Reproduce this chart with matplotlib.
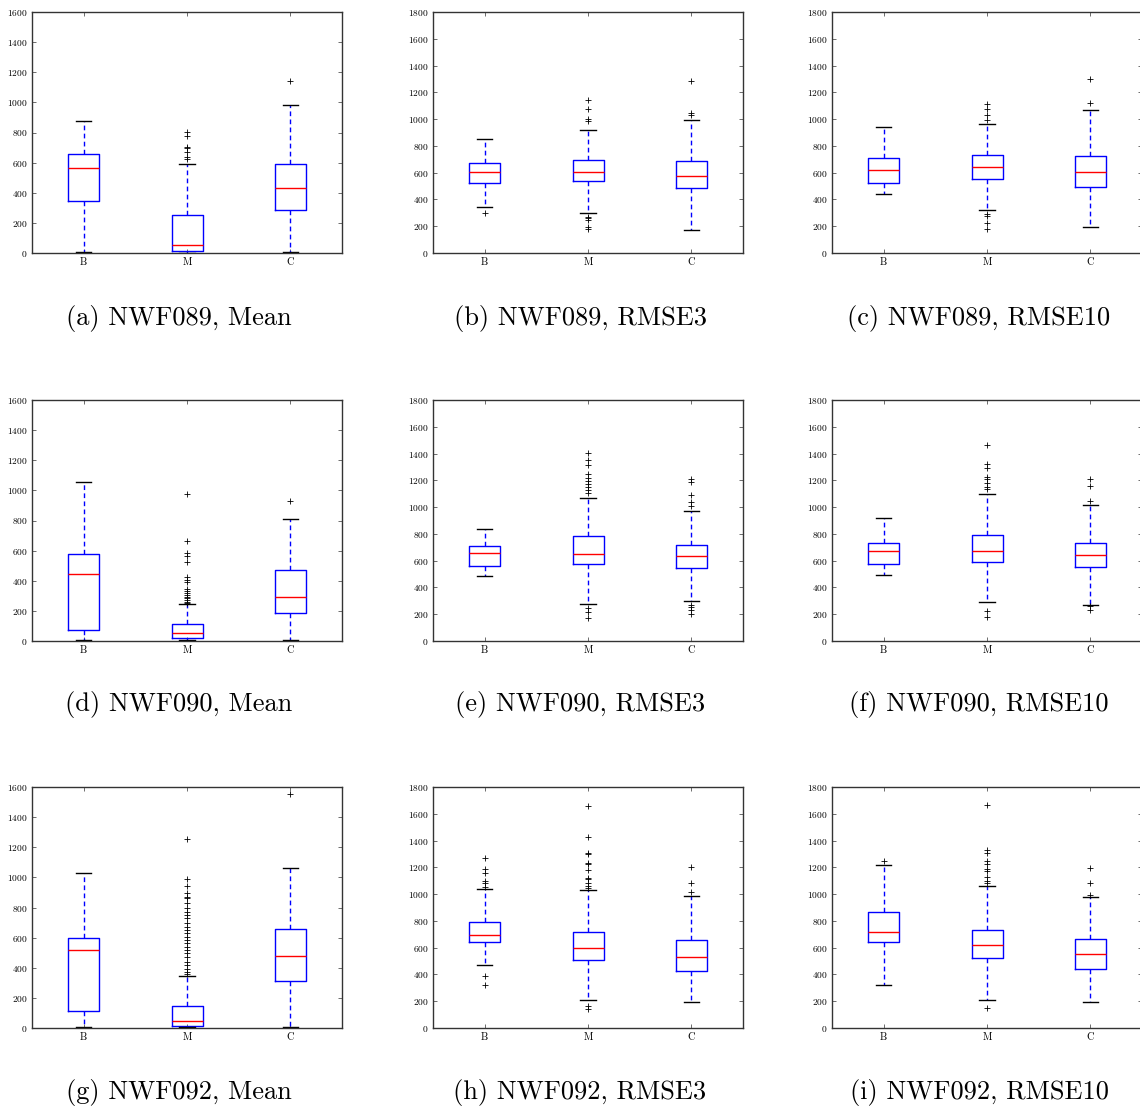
import matplotlib
matplotlib.use("Agg")
import matplotlib.pyplot as plt

# Groups shown in each panel
groups = ["B", "M", "C"]

# Panel captions, row by row
captions = [
    "(a) NWF089, Mean", "(b) NWF089, RMSE3", "(c) NWF089, RMSE10",
    "(d) NWF090, Mean", "(e) NWF090, RMSE3", "(f) NWF090, RMSE10",
    "(g) NWF092, Mean", "(h) NWF092, RMSE3", "(i) NWF092, RMSE10",
]

# Upper y limit of each panel
ymax = [1600, 1800, 1800,
        1600, 1800, 1800,
        1600, 1800, 1800]

# Box statistics per panel, one entry per group (B, M, C)
whisker_low = [
    [8, 3, 8], [341, 296, 169], [438, 321, 192],
    [9, 4, 4], [483, 274, 296], [493, 289, 269],
    [7, 5, 7], [472, 207, 197], [320, 210, 197],
]
quartile1 = [
    [343, 13, 285], [525, 535, 483], [525, 555, 490],
    [71, 18, 184], [558, 578, 543], [578, 588, 550],
    [113, 16, 315], [639, 507, 424], [642, 522, 444],
]
medians = [
    [562, 53, 429], [607, 607, 578], [617, 645, 607],
    [442, 51, 290], [655, 647, 632], [675, 670, 640],
    [515, 49, 477], [696, 594, 534], [714, 619, 549],
]
quartile3 = [
    [655, 252, 591], [670, 695, 690], [709, 732, 722],
    [580, 111, 469], [707, 782, 714], [729, 794, 734],
    [599, 149, 659], [794, 714, 654], [869, 734, 662],
]
whisker_high = [
    [878, 591, 985], [849, 921, 991], [938, 966, 1065],
    [1053, 243, 808], [836, 1065, 971], [919, 1095, 1018],
    [1030, 348, 1063], [1036, 1028, 986], [1216, 1058, 979],
]

# Outliers per panel and group
outliers = [
    [[], [801, 777, 706, 699, 670, 639, 626], [1142]],
    [[296], [1145, 1073, 1003, 988, 271, 259, 246, 197, 177], [1285, 1043, 1028]],
    [[], [1115, 1078, 1028, 993, 289, 276, 222, 179], [1302, 1118]],
    [[], [973, 662, 582, 566, 522, 427, 405, 394, 347, 334, 321, 305, 294,
          283, 272, 261, 254], [927]],
    [[], [1402, 1352, 1317, 1245, 1220, 1195, 1170, 1148, 1128, 1103,
          249, 219, 174], [1210, 1190, 1090, 1040, 1008, 269, 256, 232, 199]],
    [[], [1466, 1319, 1289, 1227, 1212, 1182, 1148, 1138, 227, 177],
     [1212, 1158, 1046, 258, 233]],
    [[], [1254, 990, 941, 899, 872, 861, 832, 795, 772, 750, 728, 695, 672,
          650, 628, 606, 584, 561, 539, 517, 495, 473, 439, 417, 395, 373, 357],
     [1553]],
    [[1268, 1186, 1161, 1098, 1081, 1056, 389, 320],
     [1655, 1425, 1308, 1301, 1231, 1223, 1181, 1123, 1111, 1086, 1061,
      1048, 165, 145], [1206, 1081, 1016]],
    [[1248], [1667, 1328, 1308, 1248, 1223, 1188, 1173, 1126, 1098, 1081, 152],
     [1196, 1086, 991]],
]

plt.rcParams["font.family"] = ["cmr10", "DejaVu Serif"]
plt.rcParams["axes.formatter.use_mathtext"] = True
plt.rcParams["mathtext.fontset"] = "cm"

W, H = 1140, 1113
fig = plt.figure(figsize=(W / 100, H / 100), dpi=100)

col_left = [32, 433, 832]
ax_w = 310
row_top = [12, 400, 787]
ax_h = 241
cap_x = [179, 580, 979]
cap_y = [318, 705, 1092]

for idx in range(9):
    r, c = divmod(idx, 3)
    ax = fig.add_axes([col_left[c] / W, 1 - (row_top[r] + ax_h) / H,
                       ax_w / W, ax_h / H])
    stats = []
    for g in range(3):
        stats.append(dict(
            label=groups[g],
            whislo=whisker_low[idx][g],
            q1=quartile1[idx][g],
            med=medians[idx][g],
            q3=quartile3[idx][g],
            whishi=whisker_high[idx][g],
            fliers=outliers[idx][g],
        ))
    ax.bxp(stats, positions=[1, 2, 3], widths=0.3,
           boxprops=dict(color="#0000ff", linewidth=1.0),
           medianprops=dict(color="#ff0000", linewidth=1.0),
           whiskerprops=dict(color="#0000ff", linewidth=1.0,
                             linestyle=(0, (3.4, 2.4))),
           capprops=dict(color="black", linewidth=1.0),
           flierprops=dict(marker="+", markeredgecolor="black",
                           markersize=4.0, markeredgewidth=0.6,
                           linestyle="none"))
    ax.set_xlim(0.5, 3.5)
    ax.set_ylim(0, ymax[idx])
    ax.set_yticks(range(0, ymax[idx] + 1, 200))
    ax.tick_params(direction="in", top=True, right=True, length=3,
                   width=0.6, color="#555555", labelsize=6.8, pad=3)
    ax.tick_params(axis="x", labelsize=7.4)
    for s in ax.spines.values():
        s.set_linewidth(1.0)
        s.set_color("#333333")
    fig.text(cap_x[c] / W, 1 - cap_y[r] / H, captions[idx],
             ha="center", va="center", fontsize=19)

fig.savefig("out.png", dpi=100)
